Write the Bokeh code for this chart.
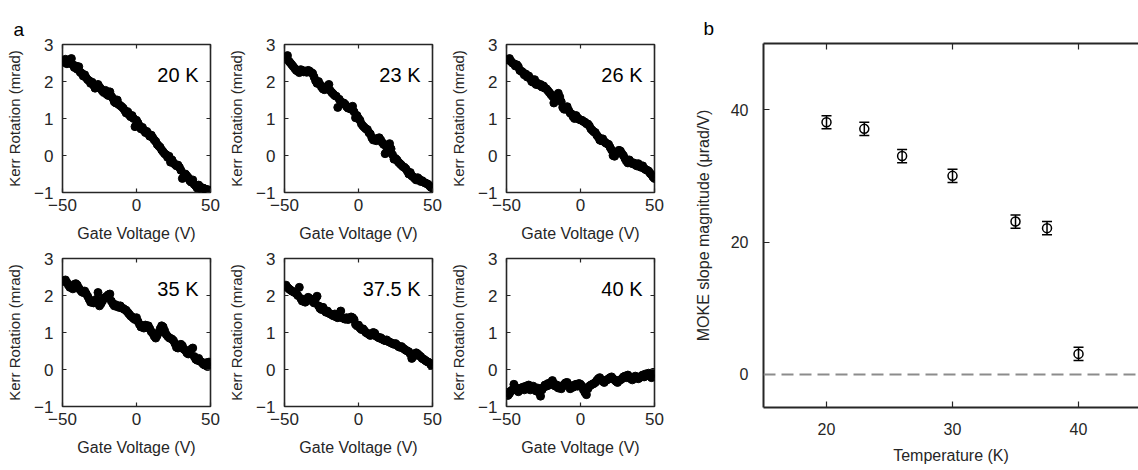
from bokeh.plotting import figure
from bokeh.layouts import row, column
from bokeh.models import (Range1d, FixedTicker, LinearAxis, Label, Span, Whisker,
                          ColumnDataSource, TeeHead, Title)
from bokeh.embed import file_html
from bokeh.resources import INLINE

# ---------------- data ----------------
gate_voltage = list(range(-50, 51))

kerr_20K = [2.55, 2.52, 2.60, 2.48, 2.55, 2.50, 2.62, 2.45, 2.38, 2.42,
            2.33, 2.40, 2.25, 2.22, 2.15, 2.18, 2.10, 2.05, 2.02, 1.95,
            1.98, 1.90, 1.82, 1.88, 1.92, 1.85, 1.80, 1.74, 1.70, 1.76,
            1.65, 1.62, 1.72, 1.60, 1.55, 1.45, 1.42, 1.50, 1.38, 1.35,
            1.32, 1.28, 1.22, 1.15, 1.18, 1.10, 1.05, 1.08, 1.00, 0.78,
            0.95, 0.88, 0.80, 0.72, 0.76, 0.68, 0.62, 0.65, 0.58, 0.52,
            0.55, 0.48, 0.42, 0.38, 0.30, 0.26, 0.22, 0.15, 0.10, 0.05,
            0.02, -0.05, -0.02, -0.18, -0.12, -0.20, -0.24, -0.28, -0.26, -0.32,
            -0.40, -0.62, -0.58, -0.50, -0.55, -0.60, -0.68, -0.72, -0.66, -0.78,
            -0.82, -0.88, -0.80, -0.85, -0.92, -0.88, -0.90, -0.95, -0.92, -0.97,
            -0.95]

kerr_23K = [2.62, 2.66, 2.70, 2.55, 2.50, 2.45, 2.40, 2.35, 2.30, 2.28,
            2.24, 2.32, 2.30, 2.26, 2.28, 2.25, 2.30, 2.28, 2.24, 2.22,
            2.12, 2.02, 1.95, 2.00, 1.92, 1.85, 1.80, 1.78, 1.86, 1.82,
            1.92, 1.75, 1.70, 1.66, 1.62, 1.60, 1.30, 1.52, 1.45, 1.40,
            1.42, 1.38, 1.32, 1.28, 1.30, 1.25, 1.33, 1.18, 1.02, 1.08,
            1.00, 0.95, 0.85, 0.80, 0.76, 0.72, 0.70, 0.62, 0.58, 0.48,
            0.42, 0.45, 0.40, 0.46, 0.48, 0.42, 0.35, 0.30, 0.05, 0.22,
            0.28, 0.32, 0.18, 0.02, -0.10, -0.08, -0.12, -0.18, -0.22, -0.26,
            -0.30, -0.32, -0.36, -0.42, -0.50, -0.46, -0.55, -0.58, -0.62, -0.66,
            -0.60, -0.64, -0.70, -0.68, -0.72, -0.74, -0.76, -0.78, -0.82, -0.86,
            -0.88]

kerr_26K = [2.60, 2.58, 2.62, 2.55, 2.50, 2.48, 2.42, 2.45, 2.40, 2.30,
            2.28, 2.25, 2.18, 2.20, 2.12, 2.15, 2.08, 2.00, 1.98, 2.05,
            1.92, 1.95, 1.90, 1.92, 1.85, 1.88, 1.82, 1.80, 1.75, 1.70,
            1.65, 1.60, 1.42, 1.55, 1.62, 1.68, 1.58, 1.45, 1.30, 1.25,
            1.28, 1.32, 1.22, 1.15, 1.12, 1.05, 1.00, 1.08, 1.02, 0.98,
            0.96, 0.95, 0.92, 0.90, 0.86, 0.85, 0.80, 0.72, 0.68, 0.64,
            0.62, 0.55, 0.50, 0.42, 0.40, 0.45, 0.38, 0.34, 0.32, 0.30,
            0.22, 0.15, 0.00, -0.02, 0.05, 0.10, 0.14, 0.12, 0.05, 0.00,
            -0.08, -0.15, -0.20, -0.12, -0.18, -0.22, -0.20, -0.25, -0.28, -0.22,
            -0.30, -0.32, -0.28, -0.35, -0.38, -0.40, -0.42, -0.48, -0.52, -0.58,
            -0.62]

kerr_35K = [2.38, 2.40, 2.42, 2.35, 2.28, 2.22, 2.25, 2.18, 2.30, 2.32,
            2.28, 2.20, 2.15, 2.10, 2.08, 2.12, 2.05, 1.98, 1.90, 1.82,
            1.85, 1.80, 1.85, 1.90, 2.08, 1.72, 1.78, 1.85, 1.92, 1.95,
            1.98, 2.02, 2.04, 1.85, 1.78, 1.72, 1.75, 1.70, 1.68, 1.72,
            1.66, 1.65, 1.62, 1.60, 1.55, 1.50, 1.45, 1.42, 1.38, 1.35,
            1.40, 1.30, 1.22, 1.15, 1.18, 1.12, 1.20, 1.15, 1.18, 1.10,
            1.02, 0.98, 0.90, 0.85, 0.92, 1.00, 1.10, 1.18, 1.15, 1.05,
            0.95, 0.90, 0.86, 0.84, 0.82, 0.78, 0.70, 0.60, 0.58, 0.62,
            0.68, 0.64, 0.55, 0.52, 0.45, 0.42, 0.50, 0.55, 0.58, 0.35,
            0.28, 0.25, 0.30, 0.22, 0.20, 0.15, 0.12, 0.18, 0.08, 0.20,
            0.15]

kerr_37p5K = [2.25, 2.28, 2.22, 2.18, 2.15, 2.12, 2.10, 2.08, 2.05, 2.00,
              2.22, 1.92, 1.85, 1.88, 1.82, 1.90, 1.95, 1.92, 1.88, 1.84,
              1.80, 1.92, 1.98, 1.72, 1.65, 1.62, 1.68, 1.60, 1.55, 1.58,
              1.52, 1.50, 1.48, 1.45, 1.50, 1.42, 1.40, 1.45, 1.58, 1.40,
              1.38, 1.36, 1.40, 1.35, 1.38, 1.42, 1.40, 1.35, 1.22, 1.18,
              1.20, 1.12, 1.08, 1.10, 1.05, 1.00, 0.98, 0.95, 0.92, 0.96,
              1.00, 0.98, 0.90, 0.88, 0.85, 0.86, 0.82, 0.80, 0.78, 0.80,
              0.76, 0.74, 0.72, 0.70, 0.68, 0.70, 0.66, 0.62, 0.60, 0.62,
              0.58, 0.55, 0.52, 0.50, 0.48, 0.42, 0.30, 0.35, 0.40, 0.45,
              0.42, 0.38, 0.35, 0.30, 0.28, 0.25, 0.22, 0.20, 0.18, 0.12,
              0.15]

kerr_40K = [-0.62, -0.70, -0.65, -0.58, -0.55, -0.40, -0.48, -0.55, -0.60, -0.52,
            -0.50, -0.48, -0.55, -0.45, -0.50, -0.42, -0.55, -0.48, -0.45, -0.52,
            -0.58, -0.50, -0.62, -0.72, -0.55, -0.48, -0.42, -0.45, -0.38, -0.42,
            -0.35, -0.30, -0.38, -0.45, -0.42, -0.50, -0.48, -0.52, -0.45, -0.40,
            -0.36, -0.35, -0.42, -0.52, -0.45, -0.48, -0.42, -0.40, -0.45, -0.38,
            -0.40, -0.45, -0.55, -0.62, -0.68, -0.52, -0.45, -0.42, -0.40, -0.38,
            -0.35, -0.30, -0.25, -0.22, -0.28, -0.32, -0.35, -0.30, -0.28, -0.25,
            -0.22, -0.20, -0.25, -0.28, -0.32, -0.35, -0.30, -0.28, -0.25, -0.20,
            -0.18, -0.22, -0.15, -0.20, -0.25, -0.28, -0.22, -0.18, -0.20, -0.25,
            -0.22, -0.18, -0.15, -0.20, -0.12, -0.15, -0.10, -0.18, -0.22, -0.08,
            -0.12]

panel_series = [kerr_20K, kerr_23K, kerr_26K, kerr_35K, kerr_37p5K, kerr_40K]
panel_labels = ["20 K", "23 K", "26 K", "35 K", "37.5 K", "40 K"]
gate_ticks = [-50, 0, 50]
kerr_ticks = [-1, 0, 1, 2, 3]

temperature = [20, 23, 26, 30, 35, 37.5, 40]
moke_slope = [38.1, 37.1, 33.0, 30.0, 23.1, 22.1, 3.1]
moke_err = [1.0, 1.0, 1.0, 1.0, 1.0, 1.0, 1.0]
temp_ticks = [20, 30, 40]
slope_ticks = [0, 20, 40]

# ---------------- styling ----------------
FONT = "Liberation Sans"
AX = "#262626"


def style_axis(ax, ticks, tick_in, label_size):
    ax.ticker = FixedTicker(ticks=ticks)
    ax.major_tick_in = tick_in
    ax.major_tick_out = 0
    ax.minor_tick_line_color = None
    ax.major_tick_line_color = AX
    ax.major_tick_line_width = 1.2
    ax.axis_line_color = None
    ax.major_label_text_font = FONT
    ax.major_label_text_font_size = label_size
    ax.major_label_text_color = AX
    ax.axis_label_text_font = FONT
    ax.axis_label_text_font_style = "normal"
    ax.axis_label_text_color = AX


def mirror_axis(ticks, tick_in, line=False):
    # box-side axis: tick marks only (drawn as minor ticks, which carry no labels)
    ax = LinearAxis(ticker=FixedTicker(ticks=[], minor_ticks=ticks))
    ax.minor_tick_in = tick_in
    ax.minor_tick_out = 0
    ax.minor_tick_line_color = AX
    ax.minor_tick_line_width = 1.2
    ax.major_tick_line_color = None
    ax.major_label_standoff = 0
    if line:
        ax.axis_line_color = AX
        ax.axis_line_width = 2
    else:
        ax.axis_line_color = None
    return ax


def spacer_axis(gap):
    # empty axis whose (invisible) tick extent lifts the panel letter away from the frame
    ax = LinearAxis(ticker=FixedTicker(ticks=[], minor_ticks=[]))
    ax.axis_line_color = None
    ax.major_tick_line_color = None
    ax.minor_tick_line_color = None
    ax.major_tick_in = 0
    ax.major_tick_out = gap
    return ax


def panel_letter(text, offset):
    return Title(text=text, align="left", offset=offset,
                 text_font=FONT, text_font_size="19px", text_font_style="normal",
                 text_color="black")


def small_panel(ys, label, top, bottom, height, letter=None):
    p = figure(width=222, height=height, output_backend="svg", toolbar_location=None,
               x_range=Range1d(-50, 50), y_range=Range1d(-1, 3),
               min_border_left=62, min_border_right=12,
               min_border_top=top, min_border_bottom=bottom)
    p.xgrid.visible = False
    p.ygrid.visible = False
    p.outline_line_color = AX
    p.outline_line_width = 1.6
    p.outline_line_alpha = 1.0
    p.background_fill_color = "white"
    p.border_fill_color = "white"
    p.scatter(gate_voltage, ys, size=8, color="black")

    style_axis(p.xaxis[0], gate_ticks, 4, "17px")
    style_axis(p.yaxis[0], kerr_ticks, 4, "17px")
    p.xaxis[0].axis_label = "Gate Voltage (V)"
    p.xaxis[0].axis_label_text_font_size = "16px"
    p.xaxis[0].major_label_standoff = 6
    p.xaxis[0].axis_label_standoff = 11
    p.yaxis[0].axis_label = "Kerr Rotation (mrad)"
    p.yaxis[0].axis_label_text_font_size = "15px"
    p.yaxis[0].major_label_standoff = 9
    p.yaxis[0].axis_label_standoff = 8

    p.add_layout(mirror_axis(gate_ticks, 4), "above")
    p.add_layout(mirror_axis(kerr_ticks, 4), "right")

    p.add_layout(Label(x=50, y=3, x_offset=-12, y_offset=-30, text=label,
                       text_align="right", text_baseline="alphabetic",
                       text_font=FONT, text_font_size="20px", text_color="black"))
    if letter:
        p.add_layout(spacer_axis(11), "above")
        p.add_layout(panel_letter(letter, -49), "above")
    return p


row1 = [small_panel(panel_series[i], panel_labels[i], 44, 53, 245, "a" if i == 0 else None)
        for i in range(3)]
row2 = [small_panel(panel_series[i], panel_labels[i], 13, 64, 225) for i in range(3, 6)]

# ---------------- panel b ----------------
pb = figure(width=472, height=470, output_backend="svg", toolbar_location=None,
            x_range=Range1d(15, 44.76), y_range=Range1d(-5, 50),
            min_border_left=97, min_border_right=0, min_border_top=43, min_border_bottom=63)
pb.xgrid.visible = False
pb.ygrid.visible = False
pb.outline_line_color = None
pb.background_fill_color = "white"
pb.border_fill_color = "white"

style_axis(pb.xaxis[0], temp_ticks, 6, "16px")
style_axis(pb.yaxis[0], slope_ticks, 6, "16px")
for ax in (pb.xaxis[0], pb.yaxis[0]):
    ax.axis_line_color = AX
    ax.axis_line_width = 2
pb.xaxis[0].axis_label = "Temperature (K)"
pb.xaxis[0].axis_label_text_font_size = "16px"
pb.xaxis[0].major_label_standoff = 15
pb.xaxis[0].axis_label_standoff = 9
pb.yaxis[0].axis_label = "MOKE slope magnitude (\u03bcrad/V)"
pb.yaxis[0].axis_label_text_font_size = "16px"
pb.yaxis[0].major_label_standoff = 15
pb.yaxis[0].axis_label_standoff = 16

pb.add_layout(mirror_axis(temp_ticks, 6, line=True), "above")
pb.add_layout(spacer_axis(13), "above")
pb.add_layout(panel_letter("b", -60), "above")

pb.add_layout(Span(location=0, dimension="width", line_color="#8c8c8c",
                   line_dash="12 6", line_width=2))

src = ColumnDataSource(dict(
    t=temperature, s=moke_slope,
    lo=[s - e for s, e in zip(moke_slope, moke_err)],
    hi=[s + e for s, e in zip(moke_slope, moke_err)]))
pb.add_layout(Whisker(base="t", lower="lo", upper="hi", source=src,
                      line_color="black", line_width=1.5,
                      upper_head=TeeHead(size=10, line_color="black", line_width=1.5),
                      lower_head=TeeHead(size=10, line_color="black", line_width=1.5)))
pb.scatter("t", "s", source=src, size=9, fill_color=None, line_color="black", line_width=1.5)

layout = row(column(row(*row1), row(*row2)), pb)
open("out.html", "w").write(file_html(layout, INLINE))
